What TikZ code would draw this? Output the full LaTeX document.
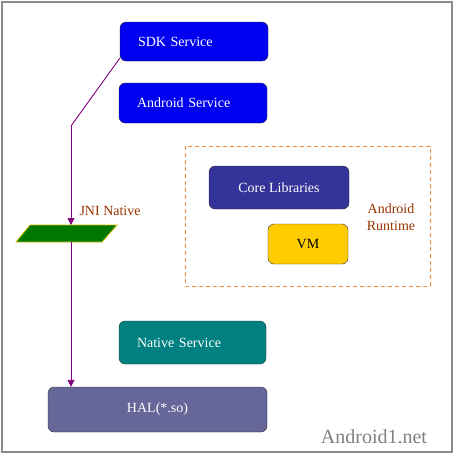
\documentclass[tikz,border=0pt]{standalone}
\usepackage{fontspec}
\setmainfont{Liberation Serif}
\usepackage{tikz}
\usetikzlibrary{arrows.meta}
\definecolor{sdkblue}{RGB}{0,0,240}
\definecolor{coreblue}{RGB}{51,51,153}
\definecolor{vmyellow}{RGB}{255,204,0}
\definecolor{nativeteal}{RGB}{0,128,128}
\definecolor{halgray}{RGB}{102,102,153}
\definecolor{jnigreen}{RGB}{0,120,0}
\definecolor{jniedge}{RGB}{204,190,0}
\definecolor{rtorange}{RGB}{245,140,60}
\definecolor{rtbrown}{RGB}{153,51,0}
\definecolor{linkpurple}{RGB}{128,0,128}
\tikzset{
  svcbox/.style={draw=black!80, rounded corners=6pt, text=white,
    font=\fontsize{14}{16}\selectfont, inner sep=0pt},
  leftbox/.style={svcbox, text width=#1, align=left, inner xsep=18pt},
  link/.style={draw=linkpurple, line width=0.9pt},
}

\begin{document}
\begin{tikzpicture}[x=1pt,y=-1pt]
  \useasboundingbox (0,0) rectangle (457,456);
  \draw[gray!90, line width=1.2pt] (2,2) rectangle (452,452);

  % services
  \node[leftbox=112pt, fill=sdkblue, minimum height=39pt] (sdk) at (194,41.5) {SDK Service};
  \node[leftbox=112pt, fill=sdkblue, minimum height=40pt] (andsvc) at (193,103) {Android Service};
  \node[leftbox=111pt, fill=nativeteal, minimum height=43pt] (native) at (192.5,342.5) {Native Service};
  \node[svcbox, fill=halgray, minimum width=219pt, minimum height=45pt] (hal) at (157.5,409.5) {HAL(*.so)};

  % android runtime
  \draw[rtorange, line width=1pt, dash pattern=on 4pt off 3pt] (185,146) rectangle (430,286);
  \node[svcbox, fill=coreblue, minimum width=140pt, minimum height=43pt] (core) at (279,187.5) {Core Libraries};
  \node[svcbox, fill=vmyellow, text=black, minimum width=80pt, minimum height=40pt] (vm) at (308,244) {VM};
  \node[text=rtbrown, align=center, font=\fontsize{14}{17}\selectfont] (runtime) at (391,217.5) {Android\\Runtime};

  % jni
  \coordinate (jnitop) at (71,225);
  \coordinate (jnibot) at (71,242);
  \coordinate (bend) at (71,126);
  \filldraw[fill=jnigreen, draw=jniedge, line width=0.8pt] (30,225) -- (117,225) -- (102,242) -- (16,242) -- cycle;
  \node[text=rtbrown, anchor=west, font=\fontsize{14}{16}\selectfont] (jni) at (76,211) {JNI Native};

  \draw[link] ([yshift=3pt]sdk.south west) -- (bend);
  \draw[link, -{Triangle[width=7pt,length=7pt]}] (bend) -- (jnitop);
  \draw[link, -{Triangle[width=7pt,length=7pt]}] (jnibot) -- (jnibot |- hal.north);

  \node[text=gray, font=\fontsize{20}{22}\selectfont] (site) at (374,437) {Android1.net};
\end{tikzpicture}
\end{document}
